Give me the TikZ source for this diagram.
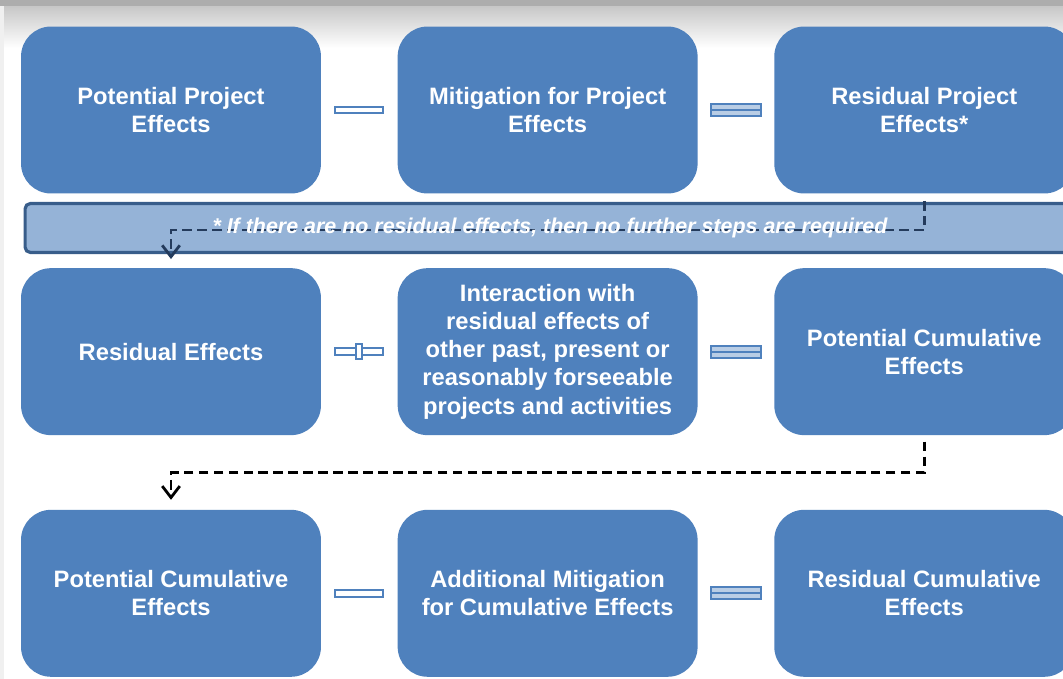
\documentclass[tikz,border=0pt]{standalone}
\usepackage{fontspec}
\setmainfont{Liberation Sans}
\usetikzlibrary{arrows.meta,positioning,calc}
\definecolor{boxblue}{HTML}{4F81BD}
\definecolor{bandfill}{HTML}{95B3D7}
\definecolor{bandline}{HTML}{385D8A}
\definecolor{noteline}{HTML}{243B5C}
\tikzset{%
  effect/.style={rectangle, rounded corners=0.6cm, fill=boxblue, text=white, align=center, minimum width=6cm, minimum height=3.34cm, font=\bfseries\fontsize{13.5}{16}\selectfont},
  opbar/.style={draw=boxblue, fill=white, line width=1.1pt, inner sep=0pt, minimum width=0.96cm, minimum height=0.13cm},
  flow/.style={draw, dash pattern=on 5.5pt off 3pt, line width=1.6pt, -{Straight Barb[length=6.5pt,width=10pt]}},
  noteband/.style={draw=bandline, fill=bandfill, line width=1.8pt, rounded corners=3pt, minimum width=21cm, minimum height=0.98cm},
  notetext/.style={text=white, font=\bfseries\itshape\fontsize{12.2}{14}\selectfont},
}
\newcommand{\equalsop}[2]{%
  \node (#1-a) [opbar, fill=boxblue!40, minimum width=1cm, minimum height=0.12cm, yshift=1.7pt] at (#2) {};
  \node (#1-b) [opbar, fill=boxblue!40, minimum width=1cm, minimum height=0.12cm, yshift=-1.7pt] at (#2) {};}
\newcommand{\plusop}[2]{%
  \node (#1-h) [opbar] at (#2) {};
  \node (#1-v) [opbar, minimum width=0.12cm, minimum height=0.3cm] at (#2) {};}

\begin{document}
\begin{tikzpicture}[x=0.02cm, y=-0.02cm, node distance=1.48cm and 1.52cm]
  \clip (0,0) rectangle (1063,679);
  % backdrop
  \fill[white] (0,0) rectangle (1063,679);
  \shade[top color=black!22, bottom color=white] (0,6) rectangle (1063,48);
  \fill[black!32] (0,0) rectangle (1063,6);
  \fill[black!6] (0,6) rectangle (4,679);

  % project effects
  \node (r1c1) [effect] at (171,110) {Potential Project\\Effects};
  \node (r1c2) [effect, right=of r1c1] {Mitigation for Project\\Effects};
  \node (r1c3) [effect, right=of r1c2] {Residual Project\\Effects*};
  % cumulative effects
  \node (r2c1) [effect, below=of r1c1] {Residual Effects};
  \node (r2c2) [effect, below=of r1c2] {Interaction with\\residual effects of\\other past, present or\\reasonably forseeable\\projects and activities};
  \node (r2c3) [effect, below=of r1c3] {Potential Cumulative\\Effects};
  % mitigation of cumulative effects
  \node (r3c1) [effect, below=of r2c1] {Potential Cumulative\\Effects};
  \node (r3c2) [effect, below=of r2c2] {Additional Mitigation\\for Cumulative Effects};
  \node (r3c3) [effect, below=of r2c3] {Residual Cumulative\\Effects};

  \node (op11) [opbar] at ($(r1c1.east)!.5!(r1c2.west)$) {};
  \equalsop{op12}{$(r1c2.east)!.5!(r1c3.west)$}
  \plusop{op21}{$(r2c1.east)!.5!(r2c2.west)$}
  \equalsop{op22}{$(r2c2.east)!.5!(r2c3.west)$}
  \node (op31) [opbar] at ($(r3c1.east)!.5!(r3c2.west)$) {};
  \equalsop{op32}{$(r3c2.east)!.5!(r3c3.west)$}

  \node (band) [noteband] at (550,228) {};
  \coordinate (noterow) at (550,230);
  \draw [flow, noteline, shorten <=4pt, shorten >=5pt] (r1c3.south) -- (r1c3.south |- noterow) -| (r2c1.north);
  \node (note) [notetext] at (band.center) {* If there are no residual effects, then no further steps are required};

  \draw [flow, shorten <=3.5pt, shorten >=5.5pt] (r2c3.south) -- ++(0,37) -| (r3c1.north);
\end{tikzpicture}
\end{document}
